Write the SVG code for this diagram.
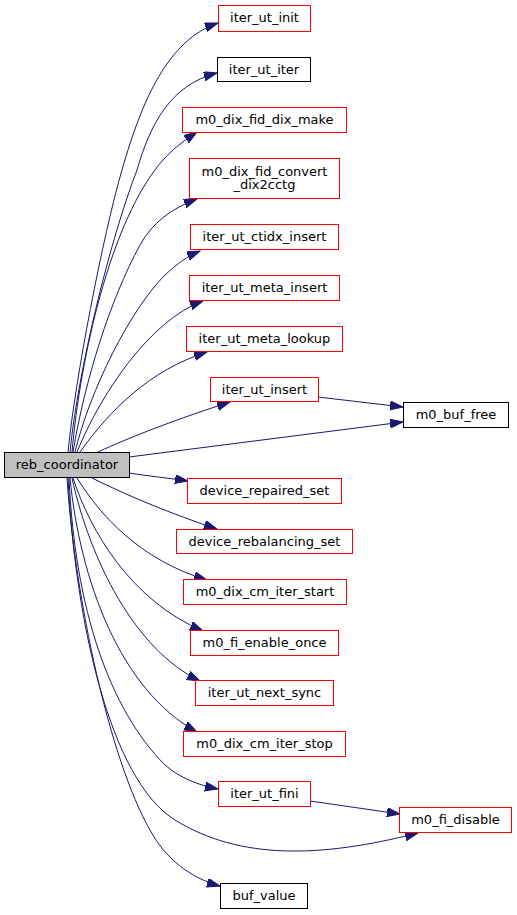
<svg xmlns="http://www.w3.org/2000/svg" width="517" height="915" viewBox="0 0 517 915">
<style>
.n rect{fill:#fff;stroke:#ff0000;stroke-width:1}
.n.b rect{stroke:#000}
.n.root rect{fill:#bfbfbf;stroke:#000}
.n text{font-family:"DejaVu Sans",sans-serif;font-size:13px;text-anchor:middle;fill:#000}
.e path{fill:none;stroke:#191970;stroke-width:1;marker-end:url(#ah)}
</style>
<defs>
<marker id="ah" markerUnits="userSpaceOnUse" markerWidth="14" markerHeight="11" refX="13" refY="4.5" orient="auto">
<path d="M0,0 L13,4.5 L0,9 z" fill="#191970" stroke="#191970"/>
</marker>
</defs>
<rect width="517" height="915" fill="#fff"/>
<g id="edges" class="e">
<path d="M68,452 C75,380 103,235 122,170 C142,100 168,40 218,23"/>
<path d="M70,452 C78,370 110,240 137,170 C150,125 170,85 217,73"/>
<path d="M72,452 C80,360 110,220 163,160 C172,150 182,142 197,132"/>
<path d="M73,452 C85,380 110,300 140,245 C152,223 172,208 197,199"/>
<path d="M75,452 C90,390 130,310 165,275 C178,263 188,256 200,251"/>
<path d="M77,452 C100,395 150,320 203,301"/>
<path d="M80,452 C110,410 150,370 207,352"/>
<path d="M98,452 C130,437 180,418 230,402"/>
<path d="M129,457 L403,422"/>
<path d="M318,397 L403,407"/>
<path d="M129,473 C148,476 168,478 188,481"/>
<path d="M92,478 C130,497 175,515 217,529"/>
<path d="M77,478 C100,515 140,560 207,580"/>
<path d="M73,478 C90,530 130,600 203,631"/>
<path d="M72,478 C90,560 135,650 200,681"/>
<path d="M70,478 C80,580 120,690 197,732"/>
<path d="M69,478 C75,610 110,710 165,765 C180,778 198,785 218,789"/>
<path d="M68,478 C75,620 110,780 175,820 C240,860 320,858 418,833"/>
<path d="M310,801 L400,814"/>
<path d="M67,478 C75,600 110,760 150,830 C165,858 190,878 220,886"/>
</g>
<g id="iter_ut_init" class="n"><rect x="218.5" y="5.5" width="92" height="26"/><text x="264.5" y="21.5">iter_ut_init</text></g>
<g id="iter_ut_iter" class="n b"><rect x="217.5" y="57.5" width="93" height="24"/><text x="264" y="73.5">iter_ut_iter</text></g>
<g id="m0_dix_fid_dix_make" class="n"><rect x="182.5" y="107.5" width="164" height="25"/><text x="264.5" y="124">m0_dix_fid_dix_make</text></g>
<g id="m0_dix_fid_convert_dix2cctg" class="n"><rect x="189.5" y="158.5" width="150" height="40"/><text x="264.5" y="175.5">m0_dix_fid_convert</text><text x="264.5" y="189">_dix2cctg</text></g>
<g id="iter_ut_ctidx_insert" class="n"><rect x="190.5" y="224.5" width="148" height="25"/><text x="264.5" y="241">iter_ut_ctidx_insert</text></g>
<g id="iter_ut_meta_insert" class="n"><rect x="189.5" y="275.5" width="150" height="25"/><text x="264.5" y="292">iter_ut_meta_insert</text></g>
<g id="iter_ut_meta_lookup" class="n"><rect x="186.5" y="326.5" width="156" height="25"/><text x="264.5" y="343">iter_ut_meta_lookup</text></g>
<g id="iter_ut_insert" class="n"><rect x="210.5" y="377.5" width="108" height="24"/><text x="264.5" y="393.5">iter_ut_insert</text></g>
<g id="m0_buf_free" class="n b"><rect x="403.5" y="402.5" width="105" height="25"/><text x="456" y="419">m0_buf_free</text></g>
<g id="reb_coordinator" class="n root"><rect x="4.5" y="452.5" width="125" height="25"/><text x="67" y="469">reb_coordinator</text></g>
<g id="device_repaired_set" class="n"><rect x="187.5" y="478.5" width="154" height="25"/><text x="264.5" y="495">device_repaired_set</text></g>
<g id="device_rebalancing_set" class="n"><rect x="176.5" y="529.5" width="176" height="24"/><text x="264.5" y="545.5">device_rebalancing_set</text></g>
<g id="m0_dix_cm_iter_start" class="n"><rect x="183.5" y="579.5" width="163" height="25"/><text x="265" y="596">m0_dix_cm_iter_start</text></g>
<g id="m0_fi_enable_once" class="n"><rect x="190.5" y="630.5" width="148" height="25"/><text x="264.5" y="647">m0_fi_enable_once</text></g>
<g id="iter_ut_next_sync" class="n"><rect x="195.5" y="680.5" width="138" height="25"/><text x="264.5" y="697">iter_ut_next_sync</text></g>
<g id="m0_dix_cm_iter_stop" class="n"><rect x="183.5" y="731.5" width="162" height="25"/><text x="264.5" y="748">m0_dix_cm_iter_stop</text></g>
<g id="iter_ut_fini" class="n"><rect x="218.5" y="781.5" width="92" height="25"/><text x="264.5" y="798">iter_ut_fini</text></g>
<g id="m0_fi_disable" class="n"><rect x="399.5" y="807.5" width="112" height="25"/><text x="455.5" y="824">m0_fi_disable</text></g>
<g id="buf_value" class="n b"><rect x="220.5" y="883.5" width="87" height="25"/><text x="264" y="900">buf_value</text></g>
</svg>
